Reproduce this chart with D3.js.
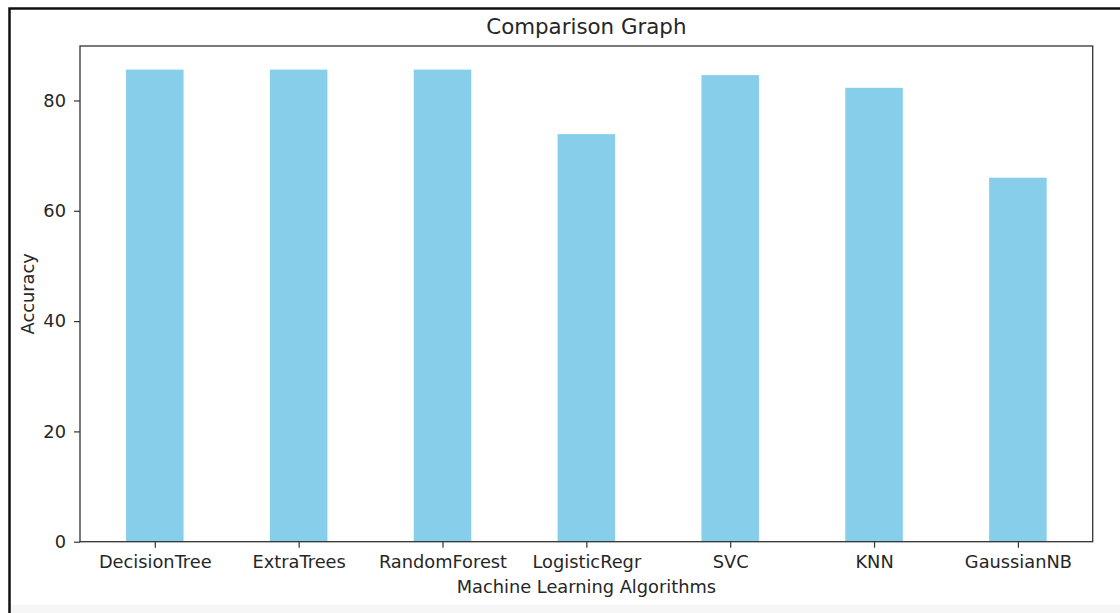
<!DOCTYPE html>
<html>
<head>
<meta charset="utf-8">
<script src="https://cdn.jsdelivr.net/npm/d3@7/dist/d3.min.js"></script>
<style>
  html, body { margin: 0; padding: 0; background: #fff; }
  svg { display: block; }
  text { font-family: "DejaVu Sans", sans-serif; fill: #262626; }
</style>
</head>
<body>
<svg id="chart" width="1120" height="613"></svg>
<script>
const categories = ["DecisionTree", "ExtraTrees", "RandomForest", "LogisticRegr", "SVC", "KNN", "GaussianNB"];
const accuracy = [85.6, 85.6, 85.6, 73.9, 84.6, 82.3, 66.0];
const yTicks = [0, 20, 40, 60, 80];
const titleText = "Comparison Graph";
const xLabel = "Machine Learning Algorithms";
const yLabel = "Accuracy";

(function () {
const svg = d3.select("#chart");
const W = 1120, H = 613;
const fs = 17.8;

// outer frame
svg.append("rect").attr("x", 10).attr("y", 605).attr("width", W - 10).attr("height", H - 605).attr("fill", "#f6f6f6");
svg.append("path")
  .attr("d", `M9.5,${H} L9.5,8.5 L${W},8.5`)
  .attr("fill", "none").attr("stroke", "#111").attr("stroke-width", 2.5);

const mL = 80, mR = 1092.7, mT = 46, mB = 541.7;

const n = categories.length;
const barW = 0.4;
const span = n - 1 + barW;
const x = d3.scaleLinear().domain([-barW / 2 - 0.05 * span, n - 1 + barW / 2 + 0.05 * span]).range([mL, mR]);
const yMax = d3.max(accuracy) * 1.05;
const y = d3.scaleLinear().domain([0, yMax]).range([mB, mT]);

// bars
svg.append("g").selectAll("rect").data(accuracy).join("rect")
  .attr("x", (d, i) => x(i - barW / 2))
  .attr("width", (d, i) => x(i + barW / 2) - x(i - barW / 2))
  .attr("y", d => y(d))
  .attr("height", d => y(0) - y(d))
  .attr("fill", "#87CEEB");

// axes
const xAxis = d3.axisBottom(x).tickValues(d3.range(n)).tickFormat(i => categories[i]).tickSize(6).tickPadding(8);
const gx = svg.append("g").attr("transform", `translate(0,${mB})`).call(xAxis);
gx.select(".domain").remove();
gx.selectAll("line").attr("stroke", "#333").attr("stroke-width", 1.2);
gx.selectAll("text").attr("font-size", fs).attr("fill", "#262626").attr("font-family", "DejaVu Sans, sans-serif");

const yAxis = d3.axisLeft(y).tickValues(yTicks).tickSize(6).tickPadding(8);
const gy = svg.append("g").attr("transform", `translate(${mL},0)`).call(yAxis);
gy.select(".domain").remove();
gy.selectAll("line").attr("stroke", "#333").attr("stroke-width", 1.2);
gy.selectAll("text").attr("font-size", fs).attr("fill", "#262626").attr("font-family", "DejaVu Sans, sans-serif");

// spines
svg.append("rect").attr("x", mL).attr("y", mT).attr("width", mR - mL).attr("height", mB - mT)
  .attr("fill", "none").attr("stroke", "#333").attr("stroke-width", 1.3);

// title & labels
svg.append("text").attr("x", (mL + mR) / 2).attr("y", 33.5).attr("text-anchor", "middle")
  .attr("font-size", fs * 1.2).text(titleText);
svg.append("text").attr("x", (mL + mR) / 2).attr("y", 593).attr("text-anchor", "middle")
  .attr("font-size", fs).text(xLabel);
svg.append("text").attr("transform", `translate(34,${(mT + mB) / 2}) rotate(-90)`).attr("text-anchor", "middle")
  .attr("font-size", fs).text(yLabel);
})();
</script>
</body>
</html>
